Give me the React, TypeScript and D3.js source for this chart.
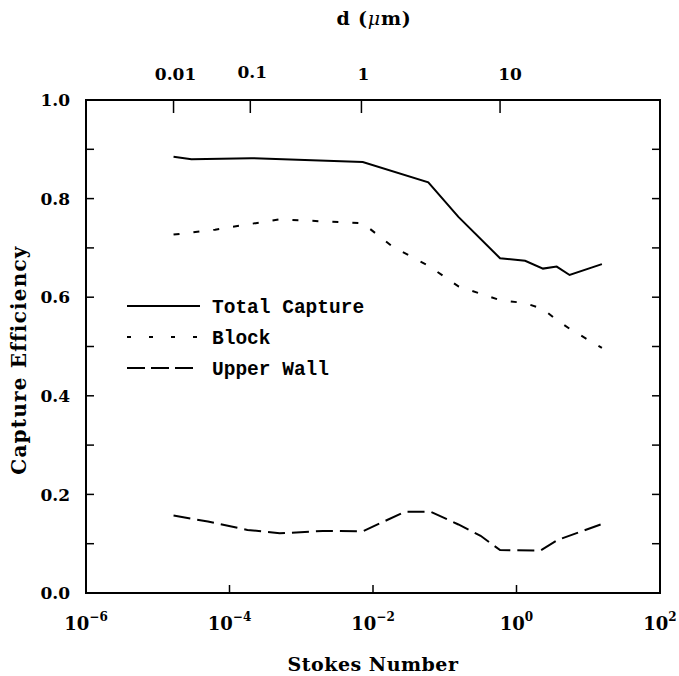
import React from "react";
import * as d3 from "d3";

const totalSt = [1.66e-5, 2.95e-5, 2.0e-4, 7.2e-3, 5.9e-2, 0.155, 0.59, 1.32, 2.34, 3.63, 5.5, 15.5];
const totalVal = [0.885, 0.88, 0.882, 0.874, 0.833, 0.763, 0.679, 0.674, 0.658, 0.662, 0.645, 0.667];

const blockSt = [1.66e-5, 6.3e-5, 5.0e-4, 7.2e-3, 1.9e-2, 5.9e-2, 0.155, 0.59, 1.32, 2.34, 3.63, 5.5, 15.5];
const blockVal = [0.727, 0.737, 0.758, 0.75, 0.702, 0.664, 0.622, 0.594, 0.588, 0.576, 0.554, 0.536, 0.497];

const wallSt = [1.66e-5, 5.0e-5, 1.78e-4, 5.0e-4, 2.0e-3, 7.2e-3, 2.8e-2, 6.3e-2, 0.155, 0.316, 0.59, 2.14, 3.8, 15.5];
const wallVal = [0.157, 0.145, 0.128, 0.121, 0.126, 0.125, 0.165, 0.165, 0.139, 0.116, 0.087, 0.086, 0.108, 0.14];

const bottomTickExp = [-6, -4, -2, 0, 2];
const yTicks = [0, 0.2, 0.4, 0.6, 0.8, 1.0];
const yMinorTicks = [0.1, 0.2, 0.3, 0.4, 0.5, 0.6, 0.7, 0.8, 0.9];
const topTickLabels = ["0.01", "0.1", "1", "10"];
const topTickSt = [1.66e-5, 1.95e-4, 6.9e-3, 0.59];

const legendNames = ["Total Capture", "Block", "Upper Wall"];

const serif = "'DejaVu Serif', serif";
const mono = "'Liberation Mono', monospace";

export default function App() {
  const left = 86, right = 660, top = 100, bottom = 593;
  const x = d3.scaleLog().domain([1e-6, 1e2]).range([left, right]);
  const y = d3.scaleLinear().domain([0, 1]).range([bottom, top]);
  const line = d3.line<[number, number]>().x((d) => x(d[0])).y((d) => y(d[1]));
  const series = [
    { pts: totalSt.map((s, i) => [s, totalVal[i]] as [number, number]), dash: "none" },
    { pts: blockSt.map((s, i) => [s, blockVal[i]] as [number, number]), dash: "6,14" },
    { pts: wallSt.map((s, i) => [s, wallVal[i]] as [number, number]), dash: "17,7" },
  ];
  const legendDash = ["none", "4,18", "18,6"];
  const legendEnd = [200, 197, 193];

  return (
    <svg width={679} height={676} style={{ display: "block", position: "absolute", left: 0, top: 0, background: "#fff" }}>
      <rect x={0} y={0} width={679} height={676} fill="#fff" />
      {/* frame */}
      <rect x={left} y={top} width={right - left} height={bottom - top} fill="none" stroke="#000" strokeWidth={2} />
      {/* y ticks both sides */}
      {yMinorTicks.map((t) => (
        <g key={"yt" + t}>
          <line x1={left} x2={left + 8} y1={y(t)} y2={y(t)} stroke="#000" strokeWidth={1.5} />
          <line x1={right - 8} x2={right} y1={y(t)} y2={y(t)} stroke="#000" strokeWidth={1.5} />
        </g>
      ))}
      {yTicks.map((t) => (
        <text key={"yl" + t} x={70} y={y(t)} dy="0.36em" textAnchor="end" fontFamily={serif} fontWeight="bold" fontSize={17}>
          {t.toFixed(1)}
        </text>
      ))}
      {/* bottom ticks */}
      {bottomTickExp.map((e) => (
        <g key={"bt" + e}>
          {e > -6 && e < 2 && (
            <line x1={x(Math.pow(10, e))} x2={x(Math.pow(10, e))} y1={bottom} y2={bottom - 8} stroke="#000" strokeWidth={1.5} />
          )}
          <text x={x(Math.pow(10, e))} y={630} textAnchor="middle" fontFamily={serif} fontWeight="bold" fontSize={18}>
            10
            <tspan fontSize={12} dy={-9}>{e < 0 ? "\u2212" + Math.abs(e) : String(e)}</tspan>
          </text>
        </g>
      ))}
      {/* top ticks */}
      {topTickSt.map((s, i) => (
        <g key={"tt" + i}>
          <line x1={x(s)} x2={x(s)} y1={top} y2={top + 13} stroke="#000" strokeWidth={1.5} />
          <text x={x(s) + (i === 3 ? 10 : 2)} y={i === 1 ? 78 : 80} textAnchor="middle" fontFamily={serif} fontWeight="bold" fontSize={17}>
            {topTickLabels[i]}
          </text>
        </g>
      ))}
      {/* axis titles */}
      <text x={374} y={25} textAnchor="middle" fontFamily={serif} fontWeight="bold" fontSize={19} letterSpacing={0.8}>
        d (<tspan fontStyle="italic" fontWeight="normal">μ</tspan>m)
      </text>
      <text x={373} y={671} textAnchor="middle" fontFamily={serif} fontWeight="bold" fontSize={19} letterSpacing={0.5}>
        Stokes Number
      </text>
      <text transform="translate(26,360) rotate(-90)" textAnchor="middle" fontFamily={serif} fontWeight="bold" fontSize={20} letterSpacing={1.2}>
        Capture Efficiency
      </text>
      {/* series */}
      {series.map((s, i) => (
        <path key={"s" + i} d={line(s.pts) || ""} fill="none" stroke="#000" strokeWidth={2} strokeDasharray={s.dash} />
      ))}
      {/* legend */}
      {legendNames.map((n, i) => (
        <g key={"lg" + i}>
          <line x1={127} x2={legendEnd[i]} y1={306 + i * 31} y2={306 + i * 31} stroke="#000" strokeWidth={2} strokeDasharray={legendDash[i]} />
          <text x={212} y={306 + i * 31} dy="0.35em" fontFamily={mono} fontWeight="bold" fontSize={19.5}>
            {n}
          </text>
        </g>
      ))}
    </svg>
  );
}
